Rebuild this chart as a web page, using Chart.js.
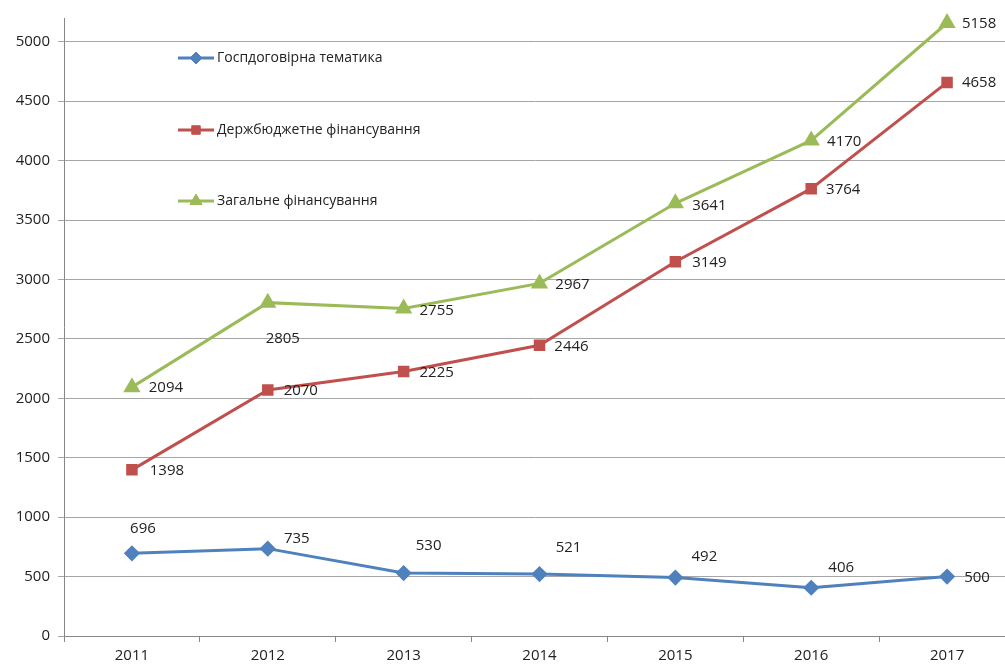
<!DOCTYPE html>
<html>
<head>
<meta charset="utf-8">
<script src="https://cdn.jsdelivr.net/npm/chart.js@4.4.1/dist/chart.umd.min.js"></script>
<style>
  html, body { margin: 0; padding: 0; background: #fff; overflow: hidden; }
  #finChart { display: block; }
</style>
</head>
<body>
<canvas id="finChart" width="1005" height="664"></canvas>
<script>
const years = ['2011', '2012', '2013', '2014', '2015', '2016', '2017'];
const contractValues = [696, 735, 530, 521, 492, 406, 500];
const budgetValues = [1398, 2070, 2225, 2446, 3149, 3764, 4658];
const totalValues = [2094, 2805, 2755, 2967, 3641, 4170, 5158];
const yTicks = [0, 500, 1000, 1500, 2000, 2500, 3000, 3500, 4000, 4500, 5000];
const seriesNames = ['Госпдоговірна тематика', 'Держбюджетне фінансування', 'Загальне фінансування'];

// label offsets (px) from each point, per series
const labelOffsets = [
  [[11, -25], [29, -10], [25, -27], [29, -26], [29, -21], [30, -20], [30, 1]],
  [[35, 1], [33, 1], [33, 1], [32, 1], [34, 1], [32, 1], [32, 0]],
  [[34, 1], [15, 36], [33, 2], [33, 1], [34, 2], [33, 1], [32, 1]]
];

const fontFam = '"Open Sans", "Noto Sans", sans-serif';

// the original plot area is cut off by the right edge: stretch x past the canvas
const PLOT_RIGHT = 1015;
const widenPlot = {
  id: 'widenPlot',
  afterLayout(chart) {
    const xs = chart.scales.x;
    xs.right = PLOT_RIGHT;
    xs.width = PLOT_RIGHT - xs.left;
    xs.configure();
    chart.chartArea.right = PLOT_RIGHT;
    chart.chartArea.width = PLOT_RIGHT - chart.chartArea.left;
  }
};

const pointLabels = {
  id: 'pointLabels',
  afterDatasetsDraw(chart) {
    const ctx = chart.ctx;
    ctx.save();
    ctx.font = '15px ' + fontFam;
    ctx.fillStyle = '#222';
    ctx.textAlign = 'center';
    ctx.textBaseline = 'middle';
    chart.data.datasets.forEach((ds, i) => {
      chart.getDatasetMeta(i).data.forEach((pt, j) => {
        const off = labelOffsets[i][j];
        ctx.fillText(String(ds.data[j]), pt.x + off[0], pt.y + off[1]);
      });
    });
    ctx.restore();
  }
};

const insideLegend = {
  id: 'insideLegend',
  afterDraw(chart) {
    const ctx = chart.ctx;
    const rows = [58, 130, 201];
    ctx.save();
    chart.data.datasets.forEach((ds, i) => {
      const y = rows[i];
      ctx.strokeStyle = ds.borderColor;
      ctx.lineWidth = 3;
      ctx.beginPath();
      ctx.moveTo(178, y);
      ctx.lineTo(214, y);
      ctx.stroke();
      ctx.fillStyle = ds.borderColor;
      ctx.lineWidth = 1;
      Chart.helpers.drawPoint(ctx, {
        pointStyle: ds.pointStyle,
        radius: ds.pointRadius,
        borderWidth: 1
      }, 196, y);
      ctx.fillStyle = '#222';
      ctx.font = '14px ' + fontFam;
      ctx.textAlign = 'left';
      ctx.textBaseline = 'middle';
      ctx.fillText(ds.label, 217, y);
    });
    ctx.restore();
  }
};

function makeSet(i, data, color, style, r) {
  return {
    label: seriesNames[i],
    data: data,
    borderColor: color,
    backgroundColor: color,
    pointBackgroundColor: color,
    pointBorderColor: color,
    borderWidth: 3,
    pointStyle: style,
    pointRadius: r,
    pointHoverRadius: r,
    tension: 0,
    clip: false
  };
}

new Chart(document.getElementById('finChart'), {
  type: 'line',
  data: {
    labels: years,
    datasets: [
      makeSet(0, contractValues, '#4F81BD', 'rectRot', 6),
      makeSet(1, budgetValues, '#C0504D', 'rect', 6),
      makeSet(2, totalValues, '#9BBB59', 'triangle', 7)
    ]
  },
  options: {
    responsive: false,
    animation: false,
    layout: { padding: { top: 18, left: 0, right: 0, bottom: 0 } },
    plugins: {
      legend: { display: false },
      tooltip: { enabled: false }
    },
    scales: {
      x: {
        offset: true,
        grid: {
          display: true,
          drawOnChartArea: false,
          drawTicks: true,
          tickLength: 6,
          offset: true,
          color: '#868686'
        },
        border: { color: '#868686', width: 1 },
        ticks: { color: '#222', font: { size: 15, family: fontFam }, padding: 5 },
        afterFit(scale) { scale.height = 28; }
      },
      y: {
        min: 0,
        max: 5200,
        afterBuildTicks(scale) { scale.ticks = yTicks.map(v => ({ value: v })); },
        grid: { color: '#a6a6a6', tickLength: 6, drawTicks: true },
        border: { color: '#868686', width: 1 },
        ticks: {
          color: '#222',
          font: { size: 15, family: fontFam },
          padding: 8,
          callback: v => String(v)
        },
        afterFit(scale) { scale.width = 64; }
      }
    }
  },
  plugins: [widenPlot, pointLabels, insideLegend]
});
</script>
</body>
</html>
